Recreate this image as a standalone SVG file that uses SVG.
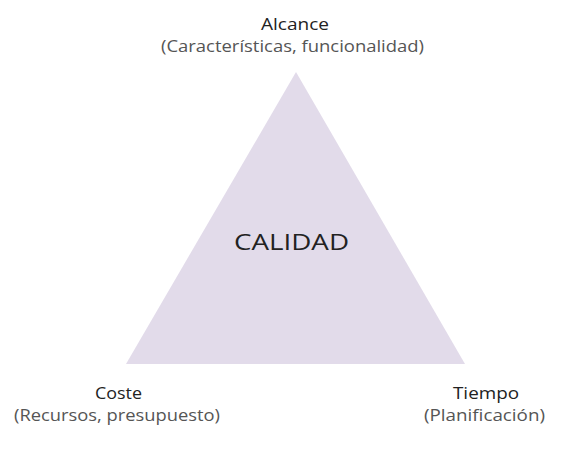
<svg xmlns="http://www.w3.org/2000/svg" width="571" height="466" viewBox="0 0 571 466">
<style>
text{font-family:"Open Sans","Liberation Sans",sans-serif;text-anchor:middle}
.t{font-size:16px;fill:#222}
.s{font-size:16px;fill:#555}
.c{font-size:22px;fill:#222}
</style>
<rect width="571" height="466" fill="#ffffff"/>
<g id="triangle">
<polygon points="296,72 126,364 465,364" fill="#e2dbea"/>
<text class="c" x="291.5" y="250" textLength="115" lengthAdjust="spacingAndGlyphs">CALIDAD</text>
</g>
<g id="alcance">
<text class="t" x="295" y="30" textLength="68" lengthAdjust="spacingAndGlyphs">Alcance</text>
<text class="s" x="292.5" y="52" textLength="263" lengthAdjust="spacingAndGlyphs">(Características, funcionalidad)</text>
</g>
<g id="coste">
<text class="t" x="118.5" y="399" textLength="47" lengthAdjust="spacingAndGlyphs">Coste</text>
<text class="s" x="117" y="421" textLength="206" lengthAdjust="spacingAndGlyphs">(Recursos, presupuesto)</text>
</g>
<g id="tiempo">
<text class="t" x="486" y="399" textLength="66" lengthAdjust="spacingAndGlyphs">Tiempo</text>
<text class="s" x="484.5" y="421" textLength="121" lengthAdjust="spacingAndGlyphs">(Planificación)</text>
</g>
<g id="connectors"></g>
</svg>
